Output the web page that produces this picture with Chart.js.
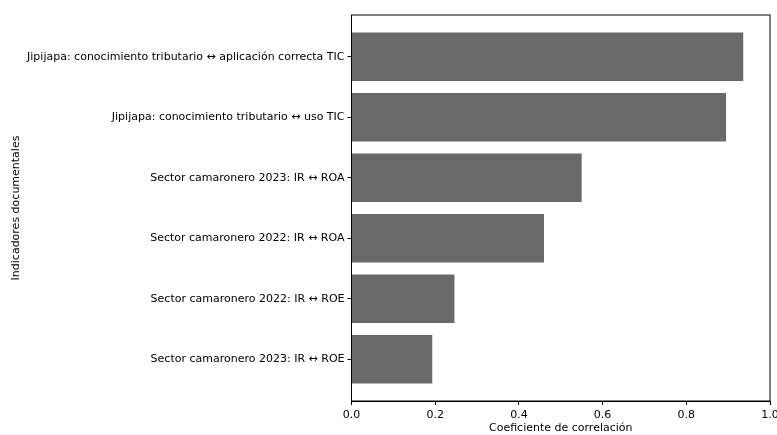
<!DOCTYPE html>
<html>
<head>
<meta charset="utf-8">
<script src="https://cdn.jsdelivr.net/npm/chart.js@4"></script>
<style>
  html, body { margin: 0; padding: 0; background: #fff; }
  #wrap { width: 777px; height: 435px; }
</style>
</head>
<body>
<div id="wrap"><canvas id="corrChart"></canvas></div>
<script>
// ---- data (top to bottom, as in the picture) ----
const categories = [
    'Jipijapa: conocimiento tributario \u2194 aplicación correcta TIC',
    'Jipijapa: conocimiento tributario \u2194 uso TIC',
    'Sector camaronero 2023: IR \u2194 ROA',
    'Sector camaronero 2022: IR \u2194 ROA',
    'Sector camaronero 2022: IR \u2194 ROE',
    'Sector camaronero 2023: IR \u2194 ROE'
];
const correlations = [0.936, 0.895, 0.550, 0.460, 0.246, 0.193];
const xTicks = [0, 0.2, 0.4, 0.6, 0.8, 1.0];

Chart.defaults.font.family = '"DejaVu Sans", sans-serif';
Chart.defaults.font.size = 11;
Chart.defaults.color = '#000';

// matplotlib-style frame around the plot area
const frame = {
    id: 'frame',
    afterDatasetsDraw(chart) {
        const a = chart.chartArea;
        const ctx = chart.ctx;
        ctx.save();
        ctx.strokeStyle = '#000';
        ctx.lineWidth = 1;
        ctx.strokeRect(a.left, a.top, a.right - a.left, a.bottom - a.top);
        ctx.restore();
    }
};

const n = categories.length;

new Chart(document.getElementById('corrChart'), {
    type: 'bar',
    data: {
        datasets: [{
            data: correlations.map((v, i) => ({ x: v, y: i })),
            backgroundColor: '#696969',
            borderWidth: 0,
            categoryPercentage: 1,
            barPercentage: 0.8
        }]
    },
    options: {
        indexAxis: 'y',
        responsive: true,
        maintainAspectRatio: false,
        animation: false,
        layout: { padding: { top: 15, right: 7, left: 0, bottom: 0 } },
        plugins: {
            legend: { display: false },
            tooltip: { enabled: false }
        },
        scales: {
            x: {
                type: 'linear',
                min: 0,
                max: 1,
                afterBuildTicks: axis => {
                    axis.ticks = xTicks.map(v => ({ value: v }));
                },
                afterFit: axis => {
                    axis.height = 34;
                    axis.paddingLeft = 0;
                    axis.paddingRight = 0;
                },
                ticks: {
                    padding: 4,
                    callback: v => v.toFixed(1)
                },
                grid: {
                    drawOnChartArea: false,
                    color: '#000',
                    tickLength: 4
                },
                border: { color: '#000' },
                title: {
                    display: true,
                    text: 'Coeficiente de correlación',
                    padding: { top: 1, bottom: 0 }
                }
            },
            y: {
                type: 'linear',
                reverse: true,
                offset: false,
                min: -0.69,
                max: n - 1 + 0.69,
                afterBuildTicks: axis => {
                    axis.ticks = categories.map((_, i) => ({ value: i }));
                },
                afterFit: axis => { axis.width = 351.5; },
                ticks: {
                    padding: 3,
                    callback: v => categories[v]
                },
                grid: {
                    offset: false,
                    drawOnChartArea: false,
                    color: '#000',
                    tickLength: 4
                },
                border: { color: '#000' },
                title: {
                    display: true,
                    text: 'Indicadores documentales',
                    padding: { top: 10, bottom: 0 }
                }
            }
        }
    },
    plugins: [frame]
});
</script>
</body>
</html>
